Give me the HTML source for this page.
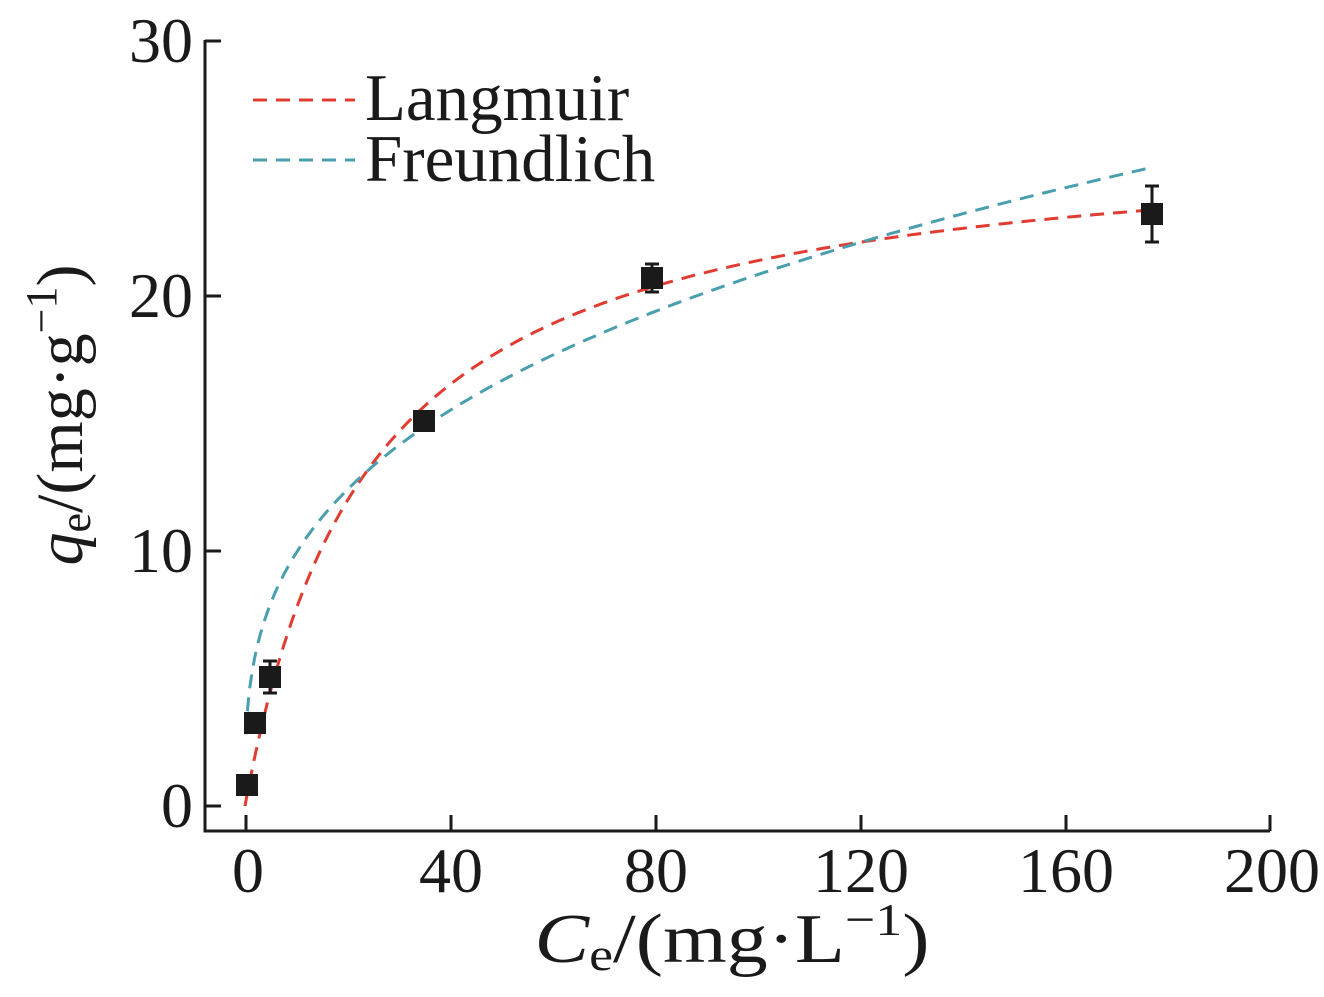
<!DOCTYPE html>
<html><head><meta charset="utf-8"><style>
html,body{margin:0;padding:0;background:#fff;}
svg{display:block;font-family:"Liberation Serif",serif;}
</style></head><body>
<svg id="s" width="1324" height="997" viewBox="0 0 1324 997" xmlns="http://www.w3.org/2000/svg">
<g stroke="#1a1a1a" stroke-width="3" fill="none">
<path d="M205,40 V831 H1270"/>
<path d="M205,41 H221 M205,296 H221 M205,551 H221 M205,806 H221"/>
<path d="M246,831 V815 M451,831 V815 M656,831 V815 M861,831 V815 M1066,831 V815 M1270,831 V815"/>
</g>
<g font-size="64" fill="#1a1a1a" text-anchor="end">
<text x="193" y="62">30</text><text x="193" y="317">20</text><text x="193" y="572">10</text><text x="193" y="827">0</text>
</g>
<g font-size="64" fill="#1a1a1a" text-anchor="middle">
<text x="248" y="892">0</text><text x="451" y="892">40</text><text x="656" y="892">80</text><text x="861" y="892">120</text><text x="1066" y="892">160</text><text x="1272" y="892">200</text>
</g>
<text x="732" y="962" font-size="70" text-anchor="middle" fill="#1a1a1a" textLength="395" lengthAdjust="spacingAndGlyphs"><tspan font-style="italic">C</tspan><tspan font-size="46" dy="8">e</tspan><tspan dy="-8">/(mg·L</tspan><tspan font-size="46" dy="-27">−1</tspan><tspan dy="27">)</tspan></text>
<text transform="translate(82,415) rotate(-90)" font-size="66" text-anchor="middle" fill="#1a1a1a"><tspan font-style="italic">q</tspan><tspan font-size="44" dy="8">e</tspan><tspan dy="-8">/(mg·g</tspan><tspan font-size="44" dy="-26">−1</tspan><tspan dy="26">)</tspan></text>
<g stroke-width="3" stroke-dasharray="14,9" fill="none">
<path d="M253,100 H355" stroke="#e03c31"/>
<path d="M253,160 H355" stroke="#4a9fae"/>
<path id="lang" stroke="#e03c31"/>
<path id="freu" stroke="#4a9fae"/>
</g>
<g font-size="67" fill="#1a1a1a">
<text x="365" y="120">Langmuir</text>
<text x="365" y="181">Freundlich</text>
</g>
<g id="pts" fill="#1a1a1a" stroke="#1a1a1a" stroke-width="3"></g>
</svg>
<script>
function X(c){return 245+c*5.125;}function Y(q){return 806-q*25.5;}
var a="",b="";
for(var i=0;i<=300;i++){var c=176*Math.pow(i/300,2);var q=26.6*0.041*c/(1+0.041*c);a+=(i?"L":"M")+X(c).toFixed(1)+","+Y(q).toFixed(1);}
for(var i=0;i<=300;i++){var c=0.2+(176-0.2)*Math.pow(i/300,2);var q=4.73*Math.pow(c,0.322);b+=(i?"L":"M")+X(c).toFixed(1)+","+Y(q).toFixed(1);}
document.getElementById("lang").setAttribute("d",a);
document.getElementById("freu").setAttribute("d",b);
var P=[[247,785,0],[255,723,0],[270,677,16],[424,421,8],[652,278,14],[1152,214,28]];
var g=document.getElementById("pts"),h="";
P.forEach(function(p){h+='<rect x="'+(p[0]-11)+'" y="'+(p[1]-11)+'" width="22" height="22" stroke="none"/>';
if(p[2]){h+='<path fill="none" d="M'+p[0]+','+(p[1]-p[2])+'V'+(p[1]+p[2])+'M'+(p[0]-7)+','+(p[1]-p[2])+'h14M'+(p[0]-7)+','+(p[1]+p[2])+'h14"/>';}});
g.innerHTML=h;
</script>
</body></html>
